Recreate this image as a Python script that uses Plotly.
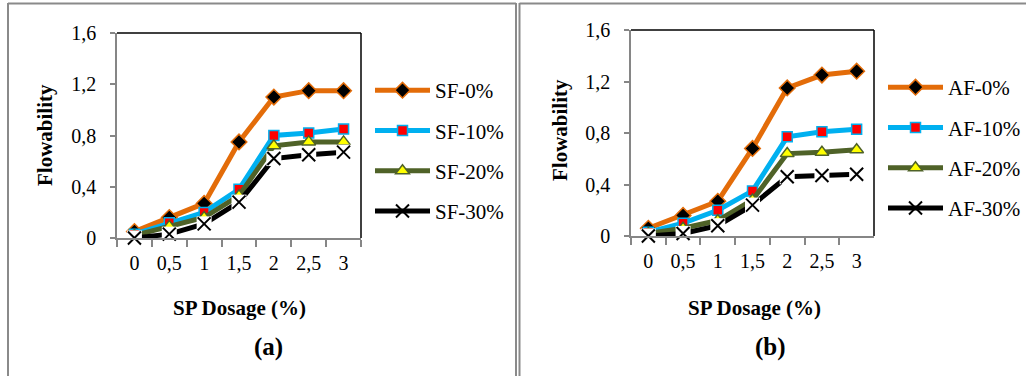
import plotly.graph_objects as go

# ---- data ----
x_labels = ["0", "0,5", "1", "1,5", "2", "2,5", "3"]
y_tickvals = [0, 0.4, 0.8, 1.2, 1.6]
y_ticktext = ["0", "0,4", "0,8", "1,2", "1,6"]

sf_names = ["SF-0%", "SF-10%", "SF-20%", "SF-30%"]
sf0 = [0.05, 0.16, 0.27, 0.75, 1.10, 1.15, 1.15]
sf10 = [0.03, 0.12, 0.20, 0.38, 0.80, 0.82, 0.85]
sf20 = [0.02, 0.09, 0.16, 0.33, 0.72, 0.75, 0.75]
sf30 = [0.00, 0.03, 0.11, 0.28, 0.62, 0.65, 0.67]

af_names = ["AF-0%", "AF-10%", "AF-20%", "AF-30%"]
af0 = [0.06, 0.16, 0.27, 0.68, 1.15, 1.25, 1.28]
af10 = [0.03, 0.10, 0.20, 0.35, 0.77, 0.81, 0.83]
af20 = [0.02, 0.06, 0.12, 0.28, 0.64, 0.65, 0.67]
af30 = [0.00, 0.02, 0.08, 0.24, 0.46, 0.47, 0.48]

W, H = 1026, 376
FONT = '"Liberation Serif", "Times New Roman", serif'


def px(x):
    return x / W


def py(y):
    return 1 - y / H


styles = [
    dict(line=dict(color="#E36C09", width=5),
         marker=dict(symbol="diamond", size=12, color="black", line=dict(color="#E36C09", width=1.5))),
    dict(line=dict(color="#00B0F0", width=5),
         marker=dict(symbol="square", size=10, color="#FF0000", line=dict(color="#00B0F0", width=1.5))),
    dict(line=dict(color="#4F6228", width=5),
         marker=dict(symbol="triangle-up", size=12, color="#FFFF00", line=dict(color="#4F6228", width=1.5))),
    dict(line=dict(color="black", width=5),
         marker=dict(symbol="x-thin", size=13, color="black", line=dict(color="black", width=2))),
]

fig = go.Figure()


def add_panel(names, series, xa, ya, leg):
    for i, (name, vals) in enumerate(zip(names, series)):
        st = styles[i]
        fig.add_trace(go.Scatter(
            x=x_labels, y=vals, name=name, mode="lines+markers",
            line=st["line"], marker=st["marker"], xaxis=xa, yaxis=ya,
            legend=leg, legendgroup=name, cliponaxis=False))
        if i == 3:
            fig.add_trace(go.Scatter(
                x=x_labels, y=vals, mode="markers", showlegend=False,
                marker=dict(symbol="square", size=15, color="white"),
                xaxis=xa, yaxis=ya, cliponaxis=False, hoverinfo="skip"))
            fig.add_trace(go.Scatter(
                x=x_labels, y=vals, mode="markers", showlegend=False,
                marker=st["marker"], xaxis=xa, yaxis=ya, cliponaxis=False,
                hoverinfo="skip"))


add_panel(sf_names, [sf0, sf10, sf20, sf30], "x", "y", "legend")
add_panel(af_names, [af0, af10, af20, af30], "x2", "y2", "legend2")

panels = [
    dict(x0=117, x1=361, y0=33, y1=238),
    dict(x0=631, x1=874, y0=30, y1=236),
]

axis_common = dict(showgrid=False, zeroline=False, showline=True, linecolor="#868686",
                   linewidth=1.5, ticks="outside", tickcolor="#868686", tickwidth=1.5,
                   automargin=False,
                   tickfont=dict(family=FONT, size=20, color="black"))

layout = dict(
    template="none",
    width=W, height=H, margin=dict(l=0, r=0, t=0, b=0, pad=0, autoexpand=False),
    plot_bgcolor="white", paper_bgcolor="white", showlegend=True,
    font=dict(family=FONT, color="black"),
)

for k, p in enumerate(panels):
    sx = "" if k == 0 else "2"
    layout["xaxis" + sx] = dict(axis_common, domain=[px(p["x0"]), px(p["x1"])],
                                anchor="y" + sx, type="category", range=[-0.5, 6.5],
                                tickson="boundaries", ticklen=7, ticklabelstandoff=6)
    layout["yaxis" + sx] = dict(axis_common, domain=[py(p["y1"]), py(p["y0"])],
                                anchor="x" + sx, range=[0, 1.6], tickvals=y_tickvals,
                                ticktext=y_ticktext, ticklen=5, ticklabelstandoff=10)

legend_common = dict(font=dict(family=FONT, size=21, color="black"), bgcolor="rgba(0,0,0,0)",
                     borderwidth=0, tracegroupgap=10, xanchor="left", yanchor="top",
                     traceorder="grouped", itemclick=False, itemwidth=55)
layout["legend"] = dict(legend_common, x=px(370), y=py(70))
layout["legend2"] = dict(legend_common, x=px(883), y=py(67))

fig.update_layout(**layout)

# plot-area border (black top/right)
for p in panels:
    fig.add_shape(type="line", xref="paper", yref="paper", x0=px(p["x0"]), x1=px(p["x1"]),
                  y0=py(p["y0"]), y1=py(p["y0"]), line=dict(color="black", width=1.5))
    fig.add_shape(type="line", xref="paper", yref="paper", x0=px(p["x1"]), x1=px(p["x1"]),
                  y0=py(p["y0"]), y1=py(p["y1"]), line=dict(color="black", width=1.5))

# outer frame lines
frame = dict(color="#8A8A8A", width=2)
fig.add_shape(type="line", xref="paper", yref="paper", x0=px(8), x1=px(8), y0=py(3), y1=0, line=frame)
fig.add_shape(type="line", xref="paper", yref="paper", x0=px(8), x1=px(516), y0=py(3.5), y1=py(3.5), line=frame)
fig.add_shape(type="line", xref="paper", yref="paper", x0=px(516), x1=px(516), y0=py(3), y1=0, line=frame)
fig.add_shape(type="line", xref="paper", yref="paper", x0=px(519.5), x1=px(519.5), y0=py(3), y1=0, line=frame)
fig.add_shape(type="line", xref="paper", yref="paper", x0=px(519.5), x1=1, y0=py(3.5), y1=py(3.5), line=frame)

# titles
title_font = dict(family=FONT, size=21, color="black")
for cx, cy, txt, ang in [(45, 135, "<b>Flowability</b>", -90), (560, 130, "<b>Flowability</b>", -90),
                         (239, 308, "<b>SP Dosage (%)</b>", 0), (754, 308, "<b>SP Dosage (%)</b>", 0)]:
    fig.add_annotation(x=px(cx), y=py(cy), xref="paper", yref="paper", text=txt, textangle=ang,
                       showarrow=False, font=title_font, xanchor="center", yanchor="middle")
for cx, cy, txt in [(268, 347, "<b>(a)</b>"), (770, 347, "<b>(b)</b>")]:
    fig.add_annotation(x=px(cx), y=py(cy), xref="paper", yref="paper", text=txt,
                       showarrow=False, font=dict(family=FONT, size=25, color="black"),
                       xanchor="center", yanchor="middle")

fig.write_html("out.html")
